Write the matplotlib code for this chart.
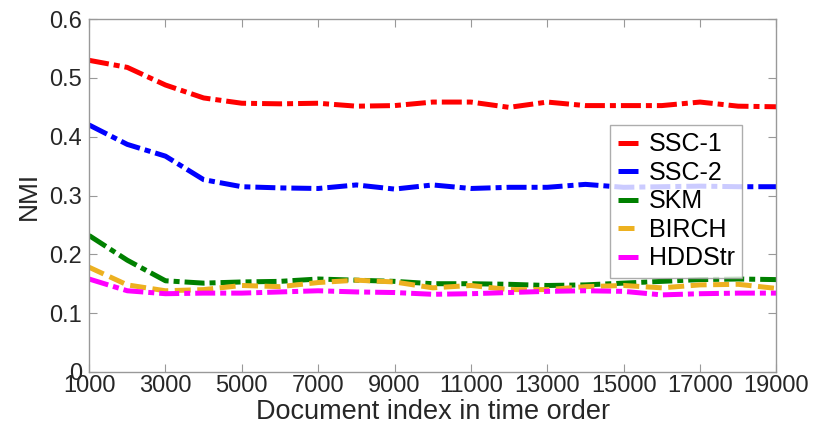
import numpy as np
import matplotlib
matplotlib.use('Agg')
from matplotlib import pyplot as plt

# Document index (x) and NMI values
doc_index = list(range(1000, 19001, 1000))
ssc1 = [0.530, 0.518, 0.488, 0.466, 0.457, 0.456, 0.457, 0.452, 0.453, 0.459,
        0.459, 0.450, 0.459, 0.453, 0.453, 0.453, 0.459, 0.452, 0.451]
ssc2 = [0.420, 0.387, 0.367, 0.327, 0.315, 0.313, 0.312, 0.318, 0.311, 0.318,
        0.312, 0.314, 0.314, 0.319, 0.314, 0.315, 0.316, 0.315, 0.315]
skm = [0.232, 0.190, 0.155, 0.151, 0.153, 0.154, 0.158, 0.156, 0.154, 0.150,
       0.150, 0.149, 0.147, 0.148, 0.151, 0.154, 0.157, 0.158, 0.157]
birch = [0.178, 0.148, 0.138, 0.140, 0.147, 0.145, 0.152, 0.156, 0.153, 0.143,
         0.147, 0.140, 0.140, 0.145, 0.147, 0.143, 0.148, 0.149, 0.142]
hddstr = [0.158, 0.138, 0.133, 0.134, 0.134, 0.136, 0.138, 0.136, 0.135, 0.132,
          0.133, 0.135, 0.137, 0.138, 0.137, 0.131, 0.133, 0.134, 0.134]

dashdot = (4.0, 1.0, 1.2, 1.0)
series = [
    ('SSC-1', ssc1, '#ff0000', dashdot),
    ('SSC-2', ssc2, '#0000ff', dashdot),
    ('SKM', skm, '#008000', dashdot),
    ('BIRCH', birch, '#edb120', (3.2, 1.3)),
    ('HDDStr', hddstr, '#ff00ff', dashdot),
]

plt.rcParams['font.family'] = ['Liberation Sans', 'DejaVu Sans']

fig = plt.figure(figsize=(8.25, 4.26), dpi=100)
ax = fig.add_axes([0.108, 0.127, 0.833, 0.828])

for name, vals, color, dash in series:
    ax.plot(doc_index, vals, color=color, linewidth=3.6, dashes=dash,
            label=name, solid_capstyle='butt', dash_capstyle='butt')

ax.set_xlim(1000, 19000)
ax.set_ylim(0, 0.6)
ax.set_xticks(range(1000, 19001, 2000))
ax.set_yticks(np.arange(0, 0.61, 0.1))
ax.set_yticklabels(['0', '0.1', '0.2', '0.3', '0.4', '0.5', '0.6'])

ax.tick_params(direction='in', top=True, right=True, labelsize=17,
               labelcolor='#262626', color='#999999', length=6, width=0.8)
ax.tick_params(axis='y', pad=5)
ax.tick_params(axis='x', pad=2)
for sp in ax.spines.values():
    sp.set_color('#999999')
    sp.set_linewidth(1.0)

ax.set_xlabel('Document index in time order', fontsize=19.5, color='#262626', labelpad=2)
ax.set_ylabel('NMI', fontsize=19, color='#262626', labelpad=6)

leg = ax.legend(loc='upper left', bbox_to_anchor=(0.758, 0.70), borderaxespad=0,
                fontsize=18, handlelength=0.8, handletextpad=0.45, labelspacing=0.18,
                frameon=True, fancybox=False, borderpad=0.3)
leg.get_frame().set_edgecolor('#999999')
leg.get_frame().set_linewidth(1.0)

fig.savefig('out.png', dpi=100)
